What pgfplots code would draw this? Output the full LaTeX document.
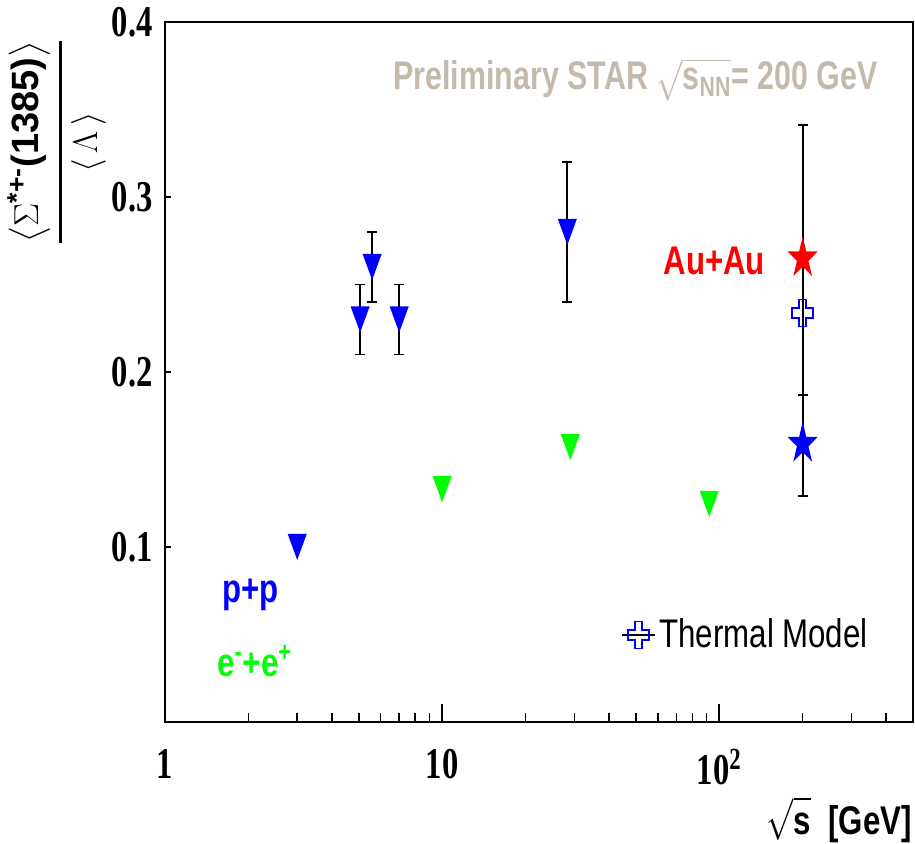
\documentclass[border=0pt]{standalone}
\usepackage{fontspec}
\setmainfont{Liberation Serif}
\setsansfont{Liberation Sans}
\usepackage{amsmath}
\usepackage{graphicx}
\usepackage{pgfplots}
\pgfplotsset{compat=1.18}

\definecolor{startan}{RGB}{196,185,173}
\definecolor{rootgreen}{RGB}{0,255,0}

% ROOT style markers (narrow, since the canvas is squeezed)
\pgfdeclareplotmark{dtri}{%
  \pgfpathmoveto{\pgfqpoint{-4.75pt}{6.5pt}}%
  \pgfpathlineto{\pgfqpoint{4.75pt}{6.5pt}}%
  \pgfpathlineto{\pgfqpoint{0pt}{-6.5pt}}%
  \pgfpathclose\pgfusepathqfill}
\pgfdeclareplotmark{fstar}{%
  \pgfpathmoveto{\pgfqpoint{0pt}{11pt}}%
  \pgfpathlineto{\pgfqpoint{-1.78pt}{3.4pt}}%
  \pgfpathlineto{\pgfqpoint{-7.53pt}{3.4pt}}%
  \pgfpathlineto{\pgfqpoint{-2.88pt}{-1.3pt}}%
  \pgfpathlineto{\pgfqpoint{-4.66pt}{-8.9pt}}%
  \pgfpathlineto{\pgfqpoint{0pt}{-4.2pt}}%
  \pgfpathlineto{\pgfqpoint{4.66pt}{-8.9pt}}%
  \pgfpathlineto{\pgfqpoint{2.88pt}{-1.3pt}}%
  \pgfpathlineto{\pgfqpoint{7.53pt}{3.4pt}}%
  \pgfpathlineto{\pgfqpoint{1.78pt}{3.4pt}}%
  \pgfpathclose\pgfusepathqfill}
\pgfdeclareplotmark{ocross}{%
  \pgfpathmoveto{\pgfqpoint{-1.75pt}{6.75pt}}%
  \pgfpathlineto{\pgfqpoint{1.75pt}{6.75pt}}%
  \pgfpathlineto{\pgfqpoint{1.75pt}{2.5pt}}%
  \pgfpathlineto{\pgfqpoint{5.25pt}{2.5pt}}%
  \pgfpathlineto{\pgfqpoint{5.25pt}{-2.5pt}}%
  \pgfpathlineto{\pgfqpoint{1.75pt}{-2.5pt}}%
  \pgfpathlineto{\pgfqpoint{1.75pt}{-6.75pt}}%
  \pgfpathlineto{\pgfqpoint{-1.75pt}{-6.75pt}}%
  \pgfpathlineto{\pgfqpoint{-1.75pt}{-2.5pt}}%
  \pgfpathlineto{\pgfqpoint{-5.25pt}{-2.5pt}}%
  \pgfpathlineto{\pgfqpoint{-5.25pt}{2.5pt}}%
  \pgfpathlineto{\pgfqpoint{-1.75pt}{2.5pt}}%
  \pgfpathclose\pgfusepathqstroke}

\newcommand{\lab}[1]{\scalebox{0.78}[1]{#1}}
\newcommand{\tl}[1]{\scalebox{0.74}[1]{#1}}

\begin{document}
\begin{tikzpicture}
\useasboundingbox (-82.5pt,-61pt) rectangle (375pt,361pt);
\begin{axis}[
    scale only axis,
    width=374pt, height=350pt,
    xmode=log,
    xmin=1, xmax=500,
    ymin=0, ymax=0.4,
    clip=false,
    axis line style={line width=1.2pt},
    tick pos=left,
    tick align=inside,
    tick style={black, line width=0.8pt},
    xtick={1,10,100},
    xticklabels={\tl{1},\tl{10},\tl{10\textsuperscript{2}}},
    minor xtick={2,3,4,5,6,7,8,9,20,30,40,50,60,70,80,90,200,300,400},
    xtick style={/pgfplots/major tick length=8.75pt},
    minor tick length=4.25pt,
    ytick={0.1,0.2,0.3,0.4},
    ytick style={/pgfplots/major tick length=3pt},
    /pgf/number format/assume math mode=true,
    yticklabel={\tl{\pgfmathprintnumber[fixed,fixed zerofill,precision=1]{\tick}}},
    xticklabel style={font=\bfseries\fontsize{22}{22}\selectfont, yshift=-10pt},
    yticklabel style={font=\bfseries\fontsize{22}{22}\selectfont, inner sep=0pt, xshift=-6pt},
    error bars/error bar style={black, line width=0.9pt},
    error bars/error mark options={black, rotate=90, line width=0.9pt, mark size=2.5pt},
    legend style={draw=none, fill=none, at={(rel axis cs:0.6096,0.1243)}, anchor=west,
        inner sep=0pt, font=\sffamily\fontsize{20}{24}\selectfont},
    legend cell align=left,
]
% p+p
\addplot[only marks, mark=dtri, color=blue, forget plot,
    error bars/.cd, y dir=both, y explicit]
  coordinates {
    (5.06,0.230) +- (0,0.020)
    (5.59,0.260) +- (0,0.020)
    (7.0,0.230)  +- (0,0.020)
    (28.3,0.280) +- (0,0.040)
  };
\addplot[only marks, mark=dtri, color=blue, forget plot]
  coordinates {(3.0,0.100)};
% e+e-
\addplot[only marks, mark=dtri, color=rootgreen, forget plot]
  coordinates {(10,0.133) (29,0.157) (92,0.1246)};
% Au+Au
\addplot[only marks, mark=fstar, color=red, forget plot,
    error bars/.cd, y dir=both, y explicit]
  coordinates {(200,0.265) += (0,0.076) -= (0,0.078)};
% Thermal model
\addplot[only marks, mark=ocross, color=blue, line width=0.75pt,
    legend image code/.code={
      \draw[black, line width=0.6pt] (0pt,0pt) -- (16.5pt,0pt);
      \draw[blue, line width=0.75pt] plot[mark=ocross] coordinates {(8.25pt,0pt)};
    }]
  coordinates {(200,0.2337)};
\addlegendentry{\lab{Thermal Model}}
% p+p at 200 GeV
\addplot[only marks, mark=fstar, color=blue, forget plot,
    error bars/.cd, y dir=both, y explicit]
  coordinates {(200,0.159) += (0,0.028) -= (0,0.0297)};

\node[anchor=base west, inner sep=0pt, text=startan, font=\sffamily\bfseries\fontsize{20}{24}\selectfont]
  at (rel axis cs:0.305,0.903) {\scalebox{0.76}[1]{Preliminary STAR $\sqrt{\mbox{s\textsubscript{NN}}}$= 200 GeV}};
\node[anchor=base west, inner sep=0pt, text=red, font=\sffamily\bfseries\fontsize{20}{24}\selectfont]
  at (rel axis cs:0.666,0.6386) {\lab{Au+Au}};
\node[anchor=base west, inner sep=0pt, text=blue, font=\sffamily\bfseries\fontsize{20}{24}\selectfont]
  at (rel axis cs:0.0762,0.17) {\lab{p+p}};
\node[anchor=base west, inner sep=0pt, text=rootgreen, font=\sffamily\bfseries\fontsize{20}{24}\selectfont]
  at (rel axis cs:0.0695,0.0643) {\lab{e\textsuperscript{-}+e\textsuperscript{+}}};
\node[anchor=base east, inner sep=0pt, font=\sffamily\bfseries\fontsize{20}{24}\selectfont]
  at (rel axis cs:0.9987,-0.1614) {\lab{$\sqrt{\vphantom{G}\mbox{s}}$\ \ [GeV]}};
\node[rotate=90, inner sep=0pt, font=\fontsize{19}{21}\selectfont]
  at (rel axis cs:-0.145,0.8286)
  {$\genfrac{}{}{1.5pt}{0}{\bigl\langle\Sigma^{\text{\sffamily\bfseries *+-}}\text{\sffamily\bfseries(1385)}\bigr\rangle}{\langle\,\Lambda\,\rangle}$};
\end{axis}
\end{tikzpicture}
\end{document}
